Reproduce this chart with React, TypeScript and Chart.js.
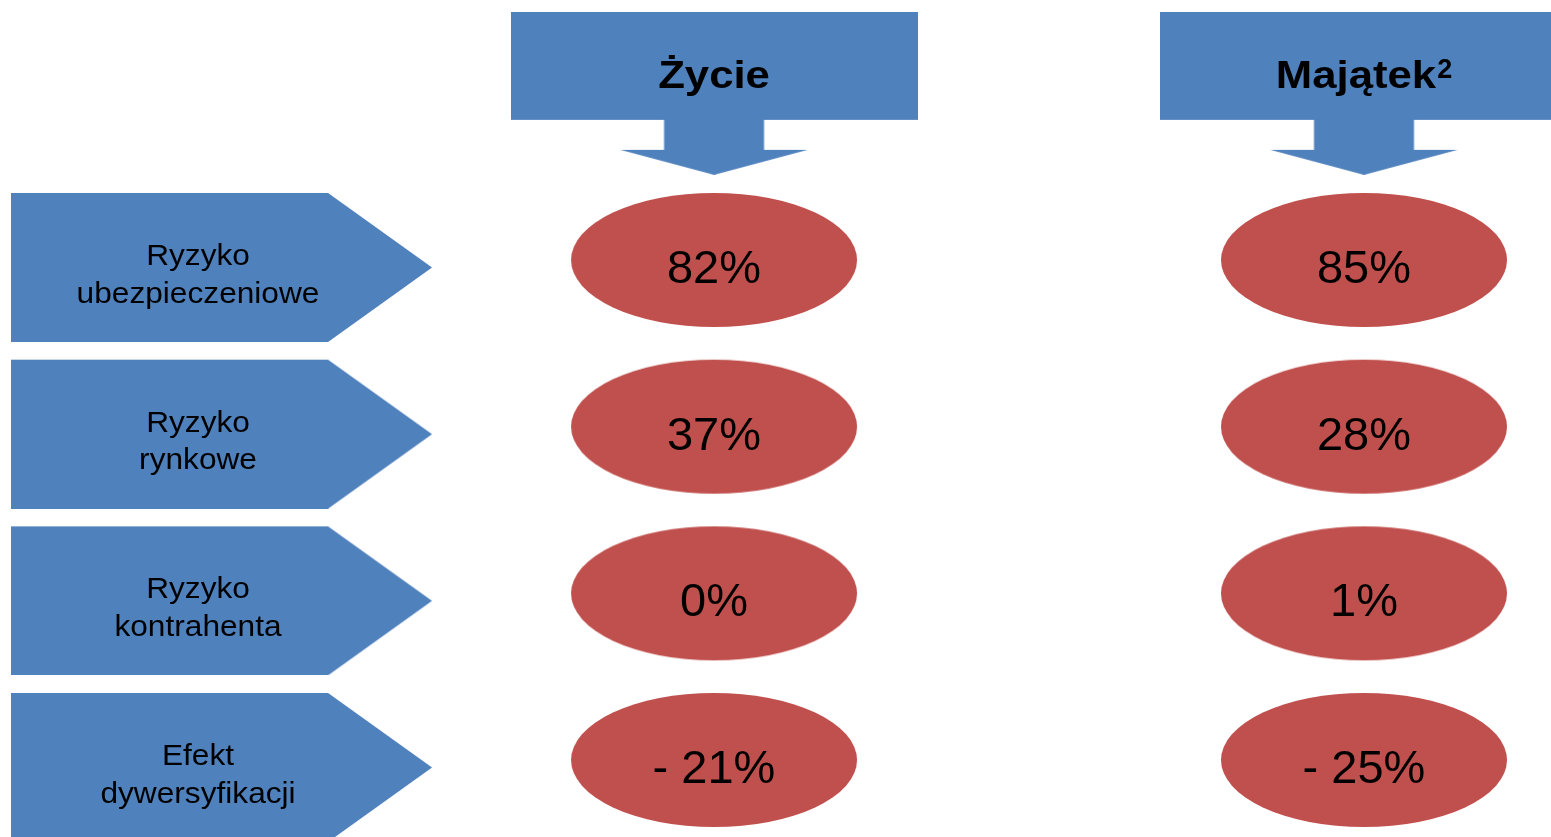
import React, { useEffect, useRef } from 'react';
import { Chart, registerables } from 'chart.js';

Chart.register(...registerables);

// Column headers (superscript note kept separately)
const columns = ['Życie', 'Majątek'];
const columnNotes = ['', '2'];

// Risk categories, one entry per row, split into two text lines
const riskRows = [
  ['Ryzyko', 'ubezpieczeniowe'],
  ['Ryzyko', 'rynkowe'],
  ['Ryzyko', 'kontrahenta'],
  ['Efekt', 'dywersyfikacji'],
];

// Share of each risk module in the capital requirement, %
const lifeShares = [82, 37, 0, -21];
const propertyShares = [85, 28, 1, -25];

const BLUE = '#4F81BD';
const RED = '#C0504D';
const FONT = "'Liberation Sans', Arial, sans-serif";

const WIDTH = 1551;
const HEIGHT = 837;

// Value-space layout: columns are 0..n-1 on x, rows 0..n-1 on y
const X_MIN = -1.0985;
const X_MAX = 1.2877;
const Y_MIN = -1.56;
const Y_MAX = 3.462;
const LABEL_COL = -0.7577;
const HEADER_ROW = -1;

function makeCanvas(w: number, h: number, draw: (ctx: CanvasRenderingContext2D) => void) {
  const c = document.createElement('canvas');
  c.width = w;
  c.height = h;
  const ctx = c.getContext('2d')!;
  draw(ctx);
  return c;
}

function ellipseStyle() {
  return makeCanvas(288, 136, (ctx) => {
    ctx.fillStyle = RED;
    ctx.beginPath();
    ctx.ellipse(144, 68, 143, 67, 0, 0, Math.PI * 2);
    ctx.fill();
  });
}

function pentagonStyle() {
  // shape occupies y 15..164 so that its top lines up with the ellipse top
  return makeCanvas(421, 164, (ctx) => {
    ctx.fillStyle = BLUE;
    ctx.beginPath();
    ctx.moveTo(0, 15);
    ctx.lineTo(317, 15);
    ctx.lineTo(421, 89.5);
    ctx.lineTo(317, 164);
    ctx.lineTo(0, 164);
    ctx.closePath();
    ctx.fill();
  });
}

function headerArrowStyle() {
  return makeCanvas(407, 163, (ctx) => {
    ctx.fillStyle = BLUE;
    ctx.beginPath();
    ctx.moveTo(0, 0);
    ctx.lineTo(407, 0);
    ctx.lineTo(407, 108);
    ctx.lineTo(253.5, 108);
    ctx.lineTo(253.5, 138);
    ctx.lineTo(297, 138);
    ctx.lineTo(203.5, 163);
    ctx.lineTo(110, 138);
    ctx.lineTo(153.5, 138);
    ctx.lineTo(153.5, 108);
    ctx.lineTo(0, 108);
    ctx.closePath();
    ctx.fill();
  });
}

function formatShare(v: number) {
  return v < 0 ? `- ${Math.abs(v)}%` : `${v}%`;
}

// Draws text horizontally widened by sx around (x, y)
function wideText(ctx: CanvasRenderingContext2D, text: string, x: number, y: number, sx: number) {
  ctx.save();
  ctx.translate(x, y);
  ctx.scale(sx, 1);
  ctx.fillText(text, 0, 0);
  ctx.restore();
}

const HEADER_SX = 1.15;
const LABEL_SX = 1.055;

const textPlugin = {
  id: 'shapeText',
  afterDatasetsDraw(chart: any) {
    const ctx: CanvasRenderingContext2D = chart.ctx;
    ctx.save();
    ctx.fillStyle = '#000';
    ctx.textBaseline = 'alphabetic';
    chart.data.datasets.forEach((ds: any, di: number) => {
      const meta = chart.getDatasetMeta(di);
      meta.data.forEach((pt: any, i: number) => {
        const raw = ds.data[i];
        const x = pt.x;
        const y = pt.y;
        if (ds.kind === 'header') {
          const main = columns[i];
          const note = columnNotes[i];
          ctx.font = `bold 38px ${FONT}`;
          const mw = ctx.measureText(main).width * HEADER_SX;
          ctx.font = `bold 27px ${FONT}`;
          const nw = note ? ctx.measureText(note).width + 1 : 0;
          const left = x - (mw + nw) / 2;
          ctx.textAlign = 'left';
          ctx.font = `bold 38px ${FONT}`;
          wideText(ctx, main, left, y - 5.5, HEADER_SX);
          if (note) {
            ctx.font = `bold 27px ${FONT}`;
            ctx.fillText(note, left + mw + 1, y - 15.5);
          }
        } else if (ds.kind === 'row') {
          ctx.font = `30px ${FONT}`;
          ctx.textAlign = 'center';
          const lines = riskRows[i];
          wideText(ctx, lines[0], x - 23.5, y + 5, LABEL_SX);
          wideText(ctx, lines[1], x - 23.5, y + 42.5, LABEL_SX);
        } else if (ds.kind === 'value') {
          ctx.font = `47px ${FONT}`;
          ctx.textAlign = 'center';
          ctx.fillText(formatShare(raw.v), x, y + 23);
        }
      });
    });
    ctx.restore();
  },
};

export default function App() {
  const ref = useRef<HTMLCanvasElement | null>(null);

  useEffect(() => {
    document.body.style.margin = '0';
    const canvas = ref.current;
    if (!canvas) return;
    const ellipse = ellipseStyle();
    const pentagon = pentagonStyle();
    const arrow = headerArrowStyle();

    const chart = new Chart(canvas, {
      type: 'scatter',
      data: {
        datasets: [
          {
            label: 'Nagłówki',
            kind: 'header',
            data: columns.map((_, i) => ({ x: i, y: HEADER_ROW })),
            pointStyle: arrow,
            pointRadius: 5,
          } as any,
          {
            label: 'Moduły ryzyka',
            kind: 'row',
            data: riskRows.map((_, i) => ({ x: LABEL_COL, y: i })),
            pointStyle: pentagon,
            pointRadius: 5,
          } as any,
          {
            label: columns[0],
            kind: 'value',
            data: lifeShares.map((v, i) => ({ x: 0, y: i, v })),
            pointStyle: ellipse,
            pointRadius: 5,
          } as any,
          {
            label: columns[1],
            kind: 'value',
            data: propertyShares.map((v, i) => ({ x: 1, y: i, v })),
            pointStyle: ellipse,
            pointRadius: 5,
          } as any,
        ],
      },
      options: {
        animation: false,
        responsive: false,
        maintainAspectRatio: false,
        events: [],
        layout: { padding: 0, autoPadding: false },
        plugins: {
          legend: { display: false },
          tooltip: { enabled: false },
        },
        scales: {
          x: { type: 'linear', display: false, min: X_MIN, max: X_MAX },
          y: { type: 'linear', display: false, min: Y_MIN, max: Y_MAX, reverse: true },
        },
      },
      plugins: [textPlugin],
    });
    return () => chart.destroy();
  }, []);

  return (
    <div style={{ width: WIDTH, height: HEIGHT, background: '#fff' }}>
      <canvas ref={ref} width={WIDTH} height={HEIGHT} style={{ display: 'block' }} />
    </div>
  );
}
